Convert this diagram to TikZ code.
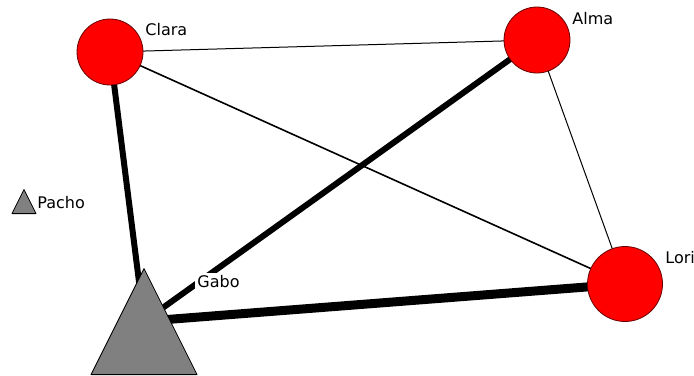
\documentclass[tikz,border=0pt]{standalone}
\usepackage{fontspec}
\setmainfont{DejaVu Sans}
\usetikzlibrary{
    shapes.geometric,
    backgrounds,
    calc
}
\tikzstyle{actor} = [circle,fill=red,draw=red!40!black,line width=0.4pt,inner sep=0pt]
\tikzstyle{guy} = [isosceles triangle,isosceles triangle stretches,shape border rotate=90,fill=gray,draw=black,line width=0.4pt,inner sep=0pt,anchor=south]
\tikzstyle{tag} = [font=\fontsize{8}{9.6}\selectfont,anchor=base west,inner sep=0pt]
\tikzstyle{tie} = [black,line width=0.5pt]

\begin{document}
\begin{tikzpicture}[
        x=0.5pt,
        y=-0.5pt,
        line join=round
    ]

        \useasboundingbox (0,0) rectangle (694,375);

        % the five actors
        \node[actor,minimum size=33pt] (Clara) at (110,52) {};
        \node[actor,minimum size=33pt] (Alma) at (537,40) {};
        \node[actor,minimum size=37.5pt] (Lori) at (625,284) {};
        \node[guy,minimum width=53pt,minimum height=53pt] (Gabo) at (144,375) {};
        \node[guy,minimum width=12pt,minimum height=12pt] (Pacho) at (24,214) {};

        % middle of the big triangle
        \coordinate (Gabo-mid) at ($(Gabo.apex)!0.5!(Gabo.south)$);

        % names
        \node[tag] (Clara-l) at (145,35) {Clara};
        \node[tag] (Alma-l) at (572,25) {Alma};
        \node[tag] (Lori-l) at (665,263) {Lori};
        \node[tag] (Pacho-l) at (37,208) {Pacho};
        \node[tag,fill=white,inner sep=1pt] (Gabo-l) at (195,287) {Gabo};

        % ties, drawn under the actors
        \begin{scope}[on background layer]
            \draw[tie] (Clara.center) -- (Alma.center);
            \draw[tie,line width=0.8pt] (Clara.center) -- (Lori.center);
            \draw[tie] (Alma.center) -- (Lori.center);
            \draw[tie,line width=3pt] (Clara.center) -- (Gabo-mid);
            \draw[tie,line width=3pt] (Alma.center) -- (Gabo-mid);
            \draw[tie,line width=4.5pt] (Gabo-mid) -- (Lori.center);
        \end{scope}

    \end{tikzpicture}
\end{document}
